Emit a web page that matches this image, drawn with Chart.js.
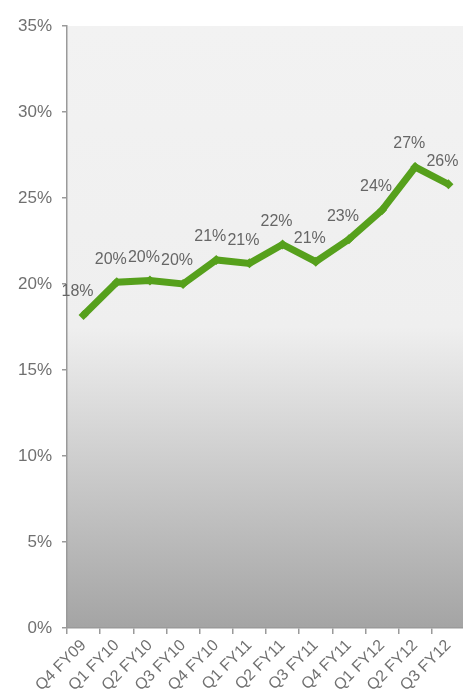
<!DOCTYPE html>
<html>
<head>
<meta charset="utf-8">
<script src="https://cdn.jsdelivr.net/npm/chart.js@4/dist/chart.umd.min.js"></script>
<style>
  html,body{margin:0;padding:0;background:#fff;overflow:hidden;}
  #wrap{width:470px;height:697px;position:relative;}
</style>
</head>
<body>
<div id="wrap"><canvas id="chartShare"></canvas></div>
<script>
// quarters shown along the bottom
const quarters = ['Q4 FY09','Q1 FY10','Q2 FY10','Q3 FY10','Q4 FY10','Q1 FY11','Q2 FY11','Q3 FY11','Q4 FY11','Q1 FY12','Q2 FY12','Q3 FY12'];
// share per quarter, in percent
const share = [18.2, 20.1, 20.2, 20.0, 21.4, 21.2, 22.3, 21.3, 22.6, 24.3, 26.8, 25.8];
const yMax = 35, yStep = 5;

const GREEN = '#56a01c';
const TEXT = '#707070';
const AXIS = '#9a9a9a';

// grey fade behind the plot
const plotBg = {
  id:'plotBg',
  beforeDraw(chart){
    const {ctx, chartArea:a} = chart;
    const g = ctx.createLinearGradient(0, a.top, 0, a.bottom);
    g.addColorStop(0, '#f2f2f2');
    g.addColorStop(0.5, '#efefef');
    g.addColorStop(1, '#a4a4a4');
    ctx.save();
    ctx.fillStyle = g;
    ctx.fillRect(a.left, a.top, a.right - a.left, a.bottom - a.top);
    ctx.restore();
  }
};

// value labels above each point
const valueLabels = {
  id:'valueLabels',
  afterDatasetsDraw(chart){
    const {ctx} = chart;
    const meta = chart.getDatasetMeta(0);
    ctx.save();
    ctx.font = '16px "Liberation Sans", Arial, sans-serif';
    ctx.fillStyle = '#666';
    ctx.textAlign = 'center';
    ctx.textBaseline = 'middle';
    meta.data.forEach((pt, i) => {
      ctx.fillText(Math.round(share[i]) + '%', pt.x - 6, pt.y - 23);
    });
    ctx.restore();
  }
};

new Chart(document.getElementById('chartShare'), {
  type:'line',
  data:{
    labels:quarters,
    datasets:[{
      data:share,
      borderColor:GREEN,
      backgroundColor:GREEN,
      borderWidth:7,
      borderJoinStyle:'miter',
      tension:0,
      pointStyle:'rectRot',
      pointRadius:5,
      pointBorderWidth:0,
      pointBackgroundColor:GREEN
    }]
  },
  options:{
    responsive:true,
    maintainAspectRatio:false,
    animation:false,
    layout:{padding:{top:26, right:0, left:0, bottom:0}},
    plugins:{legend:{display:false}, tooltip:{enabled:false}},
    scales:{
      x:{
        offset:true,
        grid:{offset:true, drawOnChartArea:false, tickLength:6, color:AXIS, lineWidth:1.5},
        border:{color:AXIS, width:1.5},
        ticks:{minRotation:45, maxRotation:45, autoSkip:false, padding:2,
               font:{size:16, family:'"Liberation Sans", Arial, sans-serif'}, color:TEXT},
        afterFit(s){ s.height = 69; }
      },
      y:{
        min:0, max:yMax,
        grid:{drawOnChartArea:false, tickLength:5, color:AXIS, lineWidth:1.5},
        border:{color:AXIS, width:1.5},
        ticks:{stepSize:yStep, padding:10, callback:v=>v+'%',
               font:{size:17, family:'"Liberation Sans", Arial, sans-serif'}, color:TEXT},
        afterFit(s){ s.width = 67; }
      }
    }
  },
  plugins:[plotBg, valueLabels]
});
</script>
</body>
</html>
